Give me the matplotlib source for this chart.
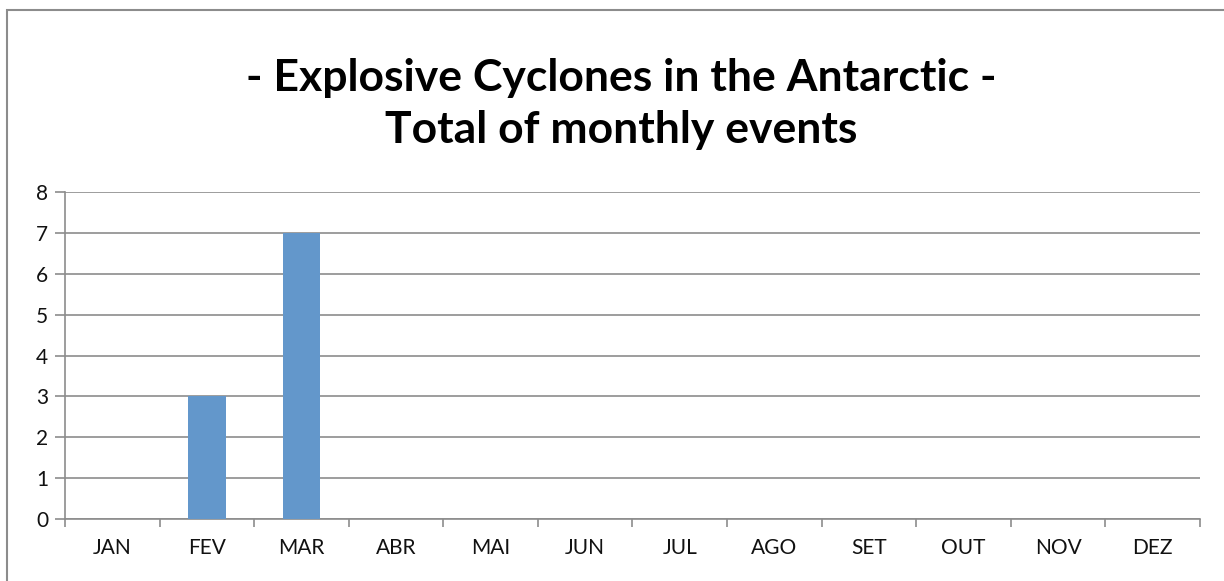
import matplotlib.pyplot as plt
import numpy as np
from matplotlib.patches import Rectangle

# Monthly totals of explosive cyclones
months = ['JAN', 'FEV', 'MAR', 'ABR', 'MAI', 'JUN',
          'JUL', 'AGO', 'SET', 'OUT', 'NOV', 'DEZ']
events = [0, 3, 7, 0, 0, 0, 0, 0, 0, 0, 0, 0]
y_ticks = [0, 1, 2, 3, 4, 5, 6, 7, 8]

plt.rcParams['font.family'] = ['Lato', 'DejaVu Sans']
grid_gray = '#8c8c8c'
bar_blue = '#6397cb'

fig = plt.figure(figsize=(12.24, 5.81), dpi=100)
ax = fig.add_axes([65/1224, 1 - 519/581, (1200 - 65)/1224, (519 - 192)/581])

x = np.arange(len(months))
ax.bar(x, events, width=0.4, color=bar_blue, zorder=3)

ax.set_xlim(-0.5, len(months) - 0.5)
ax.set_ylim(0, 8)
ax.set_yticks(y_ticks)
ax.set_xticks(x)
ax.set_xticklabels(months)
ax.set_xticks(np.arange(-0.5, len(months)), minor=True)

ax.yaxis.grid(True, color=grid_gray, lw=1.2, zorder=0)
ax.tick_params(axis='x', which='major', length=0, pad=14, labelsize=15, labelcolor='#111111')
ax.tick_params(axis='x', which='minor', length=6, width=1.2, color=grid_gray, direction='out')
ax.tick_params(axis='y', length=7, width=1.2, color=grid_gray, pad=5, labelsize=15, labelcolor='#111111')

for s in ['top', 'right']:
    ax.spines[s].set_visible(False)
for s in ['left', 'bottom']:
    ax.spines[s].set_color(grid_gray)
    ax.spines[s].set_linewidth(1.2)

fig.text(621/1224, 1 - 104/581, '- Explosive Cyclones in the Antarctic -\nTotal of monthly events',
         ha='center', va='center', fontsize=32, fontweight='bold', linespacing=1.36)

# chart area border (Excel style)
fig.patches.append(Rectangle((7/1224, -0.1), 1.2, 1.1 - 10/581, transform=fig.transFigure,
                             fill=False, edgecolor=grid_gray, lw=1.5))

fig.savefig('out.png', dpi=100)
